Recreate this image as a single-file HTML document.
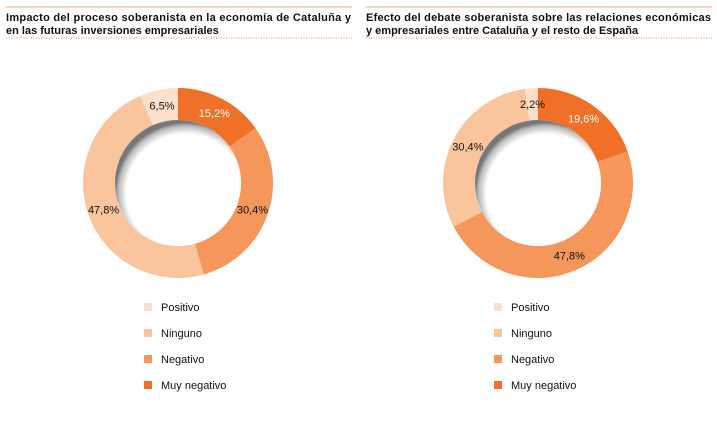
<!DOCTYPE html>
<html><head><meta charset="utf-8"><style>
body{margin:0;width:717px;height:421px;background:#fff;font-family:"Liberation Sans",Arial,sans-serif;overflow:hidden}
</style></head><body>
<svg width="717" height="421" viewBox="0 0 717 421" xmlns="http://www.w3.org/2000/svg">
<defs>
<radialGradient id="sh" cx="0.56" cy="0.58" r="0.56">
<stop offset="0.84" stop-color="#fff"/><stop offset="0.95" stop-color="#bbb"/><stop offset="1" stop-color="#777"/>
</radialGradient>
</defs>
<g id="root"></g>
</svg>
<script>
const categories=["Muy negativo","Negativo","Ninguno","Positivo"];
const legendLabels=["Positivo","Ninguno","Negativo","Muy negativo"];
const valuesLeft=[15.2,30.4,47.8,6.5];
const valuesRight=[19.6,47.8,30.4,2.2];
const titlesLeft=["Impacto del proceso soberanista en la economía de Cataluña y","en las futuras inversiones empresariales"];
const titlesRight=["Efecto del debate soberanista sobre las relaciones económicas","y empresariales entre Cataluña y el resto de España"];
const colors={"Muy negativo":"#f07027","Negativo":"#f5965a","Ninguno":"#fac49c","Positivo":"#fde0cc"};
const NS="http://www.w3.org/2000/svg";
const root=document.getElementById('root');
function mk(t,a,p){const e=document.createElementNS(NS,t);for(const k in a)e.setAttribute(k,a[k]);(p||root).appendChild(e);return e;}
function panel(x0,titles,values,cx,cy,legX,id){
  const g=mk('g',{});
  
  
  mk('line',{x1:x0,x2:x0+346,y1:7,y2:7,stroke:'#f4a77a','stroke-width':1},g);
  titles.forEach((t,i)=>{const tx=mk('text',{x:x0,y:21+i*13,'font-size':'11','font-weight':'bold',fill:'#111',textLength:(i==0?345:null)},g);
    if(i!=0)tx.removeAttribute('textLength');
    tx.textContent=t;
    
    });
  mk('line',{x1:x0,x2:x0+346,y1:38,y2:38,stroke:'#f08a4b','stroke-width':1,'stroke-dasharray':'1 1.5'},g);
  const R=95,r=63,tot=values.reduce((a,b)=>a+b,0);let c=0;
  const pt=(a,rad)=>[cx+rad*Math.sin(a),cy-rad*Math.cos(a)];
  values.forEach((v,i)=>{
    const a0=c/tot*2*Math.PI,a1=(c+v)/tot*2*Math.PI;c+=v;
    const lg=(a1-a0)>Math.PI?1:0;
    const [x1,y1]=pt(a0,R),[x2,y2]=pt(a1,R),[x3,y3]=pt(a1,r),[x4,y4]=pt(a0,r);
    const p=mk('path',{d:`M${x1},${y1}A${R},${R} 0 ${lg} 1 ${x2},${y2}L${x3},${y3}A${r},${r} 0 ${lg} 0 ${x4},${y4}Z`,fill:colors[categories[i]]},g);
    
    
    const am=(a0+a1)/2,[lx,ly]=pt(am,79);
    const t=mk('text',{x:lx,y:ly+4,'font-size':'11','text-anchor':'middle',fill:i==0?'#fff':'#111'},g);
    t.textContent=v.toFixed(1).replace('.',',')+'%';
    
    
  });
  mk('circle',{cx:cx,cy:cy,r:r,fill:'url(#sh)'},g);
  legendLabels.forEach((l,i)=>{
    const y=307+i*26;
    const s=mk('rect',{x:legX,y:y-4,width:8,height:8,fill:colors[l]},g);
    
    
    const t=mk('text',{x:legX+17,y:y+4,'font-size':'11',fill:'#111'},g);t.textContent=l;
    
    
  });
}
panel(6,titlesLeft,valuesLeft,178,183,144,'left');
panel(366,titlesRight,valuesRight,538,183,494,'right');
</script>
</body></html>
